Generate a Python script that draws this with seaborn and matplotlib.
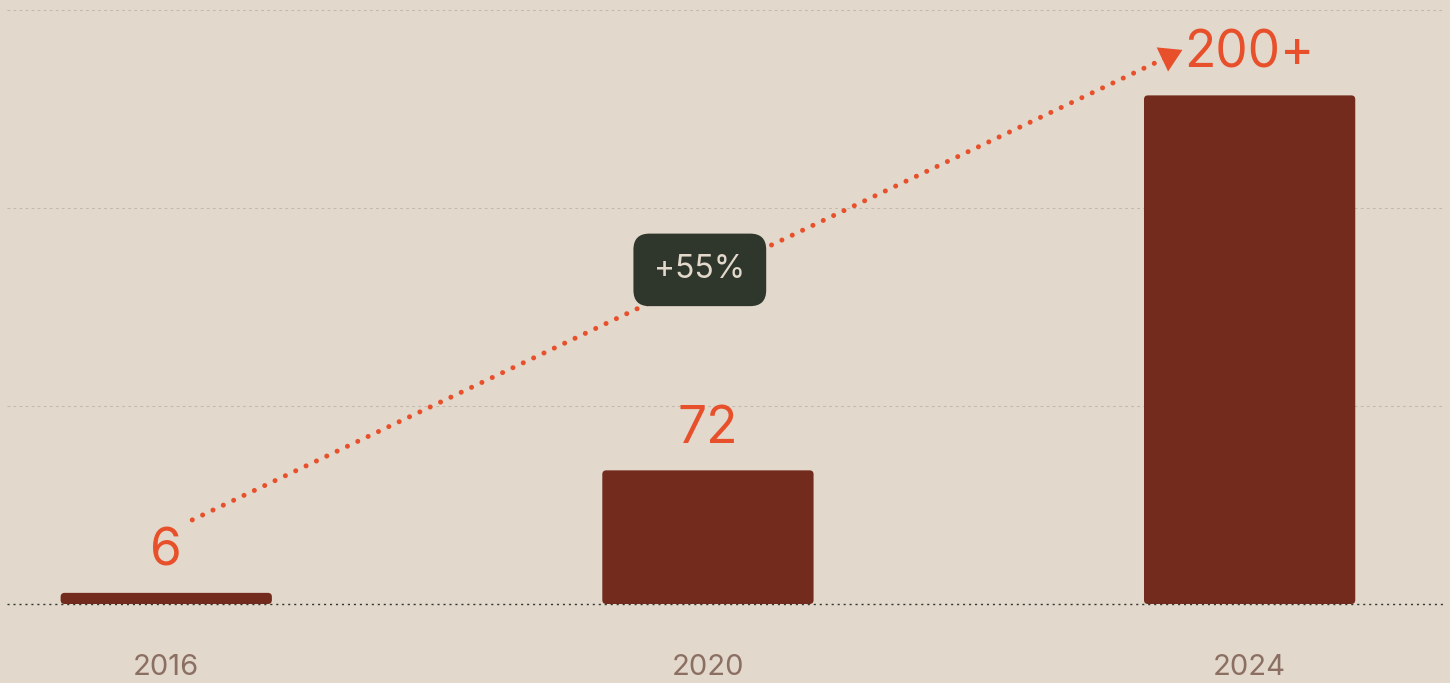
import matplotlib
matplotlib.use("Agg")
import matplotlib.pyplot as plt
from matplotlib.patches import FancyBboxPatch
import seaborn as sns
import pandas as pd

years = ["2016", "2020", "2024"]
values = [6, 72, 274]
value_labels = ["6", "72", "200+"]
growth_label = "+55%"

BG = "#E2D8CB"
BAR = "#722B1C"
ACCENT = "#E8502B"
TICK = "#8B6F62"
DARK = "#2F372C"

sns.set_theme(style="white")
plt.rcParams["font.family"] = ["Inter", "DejaVu Sans"]

df = pd.DataFrame({"year": years, "value": values})

fig = plt.figure(figsize=(14.5, 6.83), dpi=100, facecolor=BG)
ax = fig.add_axes([7 / 1450, 79 / 683, 1436 / 1450, 594 / 683])
ax.set_facecolor(BG)

sns.barplot(data=df, x="year", y="value", color=BAR, saturation=1,
            width=0.39, ax=ax, zorder=3)

ax.set_xlim(-0.294, 2.357)
ax.set_ylim(0, 320)

# rounded bar corners
xpx = 1 / 541.75
ypx = 320 / 594
aspect = ypx / xpx
for p in list(ax.patches):
    x, y, w, h = p.get_x(), p.get_y(), p.get_width(), p.get_height()
    r = 4 * xpx
    fb = FancyBboxPatch((x, y), w, h,
                        boxstyle=f"round,pad=0,rounding_size={r}",
                        mutation_aspect=aspect, facecolor=BAR,
                        edgecolor="none", zorder=3)
    p.remove()
    ax.add_patch(fb)

# grid lines
for gy in [320 / 3, 640 / 3, 320]:
    ax.axhline(gy, color="#C2B8AB", lw=0.75, linestyle=(0, (2.6, 3.2)),
               zorder=1, clip_on=False)
ax.axhline(0, color="#33362E", lw=1.0, linestyle=(0, (1.5, 2.8)),
           zorder=4, clip_on=False)

for s in ax.spines.values():
    s.set_visible(False)
ax.set_yticks([])
ax.set_xlabel("")
ax.set_ylabel("")
ax.tick_params(axis="x", length=0, pad=36, labelsize=21, labelcolor=TICK)

# value labels
for i, (v, lab) in enumerate(zip(values, value_labels)):
    ax.annotate(lab, xy=(i, v), xytext=(0, 20), textcoords="offset points",
                ha="center", va="baseline", fontsize=37, color=ACCENT, zorder=5)

# growth arrow
x0, y0 = 0.048, 45.3
x1, y1 = 1.876, 298.5
ax.plot([x0, x1 - 0.02], [y0, y1 - 2.8], color=ACCENT, lw=3.6,
        linestyle=(0, (0.01, 2.28)), dash_capstyle="round", zorder=4)
ax.annotate("", xy=(x1, y1), xytext=(x0, y0),
            arrowprops=dict(arrowstyle="-|>,head_length=0.4,head_width=0.24",
                            mutation_scale=40, lw=0, color=ACCENT,
                            shrinkA=0, shrinkB=0), zorder=4)

ax.text(0.985, 180, growth_label,
        ha="center", va="center", fontsize=23, color=BG, zorder=6,
        bbox=dict(boxstyle="round,pad=0.65,rounding_size=0.5",
                  facecolor=DARK, edgecolor="none"))

fig.savefig("out.png", dpi=100, facecolor=BG)
